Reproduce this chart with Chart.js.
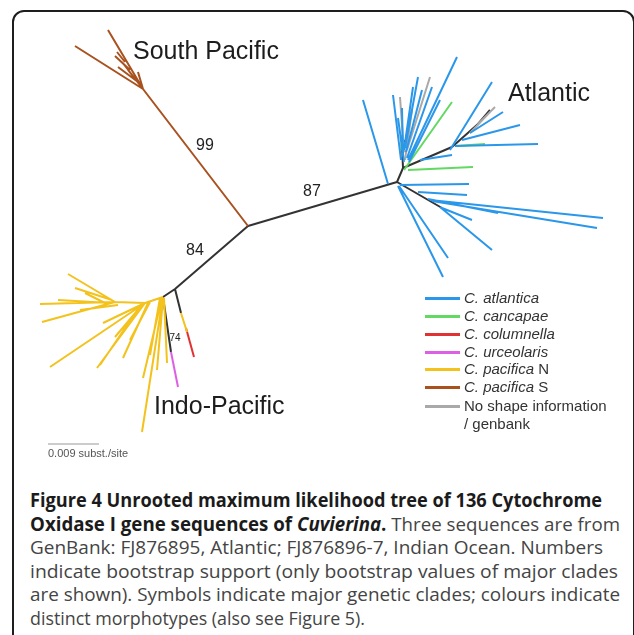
<!DOCTYPE html>
<html>
<head>
<meta charset="utf-8">
<script src="https://cdn.jsdelivr.net/npm/chart.js@4.4.1/dist/chart.umd.min.js"></script>
<style>
  html, body { margin: 0; padding: 0; background: #fff; width: 634px; height: 635px; overflow: hidden; }
  #frame { position: absolute; left: 12px; top: 10px; width: 623px; height: 660px; border: 2px solid #1e1e1e; border-radius: 12px; box-sizing: border-box; }
  #plot { position: absolute; left: 0; top: 0; width: 634px; height: 470px; }
  #legend { position: absolute; left: 0; top: 0; font-family: "Liberation Sans", Arial, sans-serif; font-size: 15px; color: #333; }
  .lg-row { position: absolute; left: 425px; height: 18px; white-space: nowrap; }
  .lg-swatch { position: absolute; left: 0; top: 8px; width: 35px; height: 3px; }
  .lg-text { position: absolute; left: 39px; top: 0; line-height: 18px; }
  #caption { position: absolute; left: 30px; top: 0; font-family: "Open Sans", "Noto Sans", sans-serif; font-size: 19px; color: #444; font-weight: 400; }
  .cap-line { position: absolute; left: 0; white-space: nowrap; transform-origin: 0 0; line-height: 24px; }
  .cap-line b { font-weight: 700; color: #1b1b1b; }
</style>
</head>
<body>
<div id="frame"></div>
<div id="plot"><canvas id="tree"></canvas></div>
<div id="legend"></div>
<div id="caption"></div>
<script>
// ---- tree data: branches as [x1, y1, x2, y2] in tree-layout units ----
const cladeNames = ['South Pacific', 'Atlantic', 'Indo-Pacific'];
const bootstrapValues = [99, 87, 84, 74];
const morphotypes = ['C. atlantica', 'C. cancapae', 'C. columnella', 'C. urceolaris', 'C. pacifica N', 'C. pacifica S', 'No shape information / genbank'];

const internalBranches = [
  [248, 226, 397, 182], [248, 226, 175, 289], [175, 289, 163, 297], [175, 289, 181, 313],
  [163, 297, 171, 352], [397, 182, 403, 168], [403, 168, 402, 145], [403, 168, 452, 147],
  [452, 147, 478, 124], [478, 124, 490, 110], [397, 182, 442, 208], [402, 160, 405, 140]
];
const atlanticaBranches = [
  [388, 184, 363, 100], [401, 160, 393, 95], [403, 155, 402, 108], [404, 150, 413, 87],
  [405, 148, 418, 77], [406, 152, 422, 90], [408, 160, 457, 57], [407, 158, 432, 87],
  [409, 162, 440, 100], [404, 162, 398, 118], [450, 150, 492, 82], [462, 140, 520, 125],
  [455, 146, 538, 144], [420, 160, 452, 155], [470, 133, 503, 112], [400, 185, 469, 184],
  [418, 192, 467, 195], [430, 200, 603, 218], [432, 201, 597, 228], [428, 199, 498, 213],
  [442, 208, 472, 220], [440, 207, 492, 250], [399, 186, 448, 258], [398, 186, 443, 277]
];
const cancapaeBranches = [
  [404, 170, 452, 102], [408, 170, 473, 167], [455, 146, 485, 144], [401, 150, 402, 135]
];
const columnellaBranches = [[186, 328, 194, 357]];
const urceolarisBranches = [[171, 352, 178, 387]];
const pacificaNBranches = [
  [163, 297, 145, 303], [145, 303, 115, 302], [115, 302, 40, 304], [115, 302, 68, 274],
  [115, 302, 42, 322], [112, 300, 75, 288], [110, 303, 58, 300], [118, 305, 80, 310],
  [105, 303, 85, 293], [145, 303, 50, 367], [145, 303, 97, 368], [140, 306, 100, 365],
  [145, 303, 103, 323], [142, 305, 115, 337], [148, 303, 123, 358], [150, 302, 130, 340],
  [163, 297, 142, 432], [162, 298, 143, 378], [163, 298, 157, 370], [164, 298, 167, 363],
  [160, 298, 150, 355], [181, 313, 187, 332]
];
const pacificaSBranches = [
  [248, 226, 143, 89], [143, 89, 75, 46], [143, 89, 108, 30], [143, 89, 128, 70],
  [138, 82, 118, 67], [130, 70, 115, 56], [125, 62, 117, 52], [143, 89, 138, 72],
  [140, 85, 122, 62]
];
const genbankBranches = [
  [404, 152, 400, 97], [407, 150, 430, 77], [478, 124, 495, 107], [470, 133, 490, 112],
  [405, 160, 412, 110]
];
const scaleBarSubst = 0.009;

// ---- styling ----
const colours = {
  atlantica: '#2a97ea', cancapae: '#62d962', columnella: '#e03232', urceolaris: '#dd5fe3',
  pacificaN: '#f3c21c', pacificaS: '#a8521f', genbank: '#a9a9a9', internal: '#333333'
};
const unitsPerSubst = 51 / 0.009;          // layout units per substitution/site
const scaleBarOrigin = [48, 444];
const cladeLabelAnchors = [[133, 59], [508, 101], [154, 414]];
const bootstrapAnchors = [[205, 146], [312, 192], [195, 251], [175, 338]];

function segments(list) {
  const out = [];
  list.forEach(b => { out.push({ x: b[0], y: b[1] }, { x: b[2], y: b[3] }, { x: null, y: null }); });
  return out;
}
function branchSet(list, colour, width) {
  return { data: segments(list), showLine: true, borderColor: colour, borderWidth: width,
           pointRadius: 0, pointHoverRadius: 0, spanGaps: false, clip: false };
}

const scaleBar = [[scaleBarOrigin[0], scaleBarOrigin[1], scaleBarOrigin[0] + scaleBarSubst * unitsPerSubst, scaleBarOrigin[1]]];

const textPlugin = {
  id: 'treeText',
  afterDatasetsDraw(chart) {
    const { ctx, scales: { x, y } } = chart;
    ctx.save();
    ctx.fillStyle = '#1d1d1d';
    ctx.textBaseline = 'alphabetic';
    ctx.textAlign = 'left';
    ctx.font = '25px "Liberation Sans", Arial, sans-serif';
    cladeNames.forEach((name, i) => {
      const p = cladeLabelAnchors[i];
      ctx.fillText(name, x.getPixelForValue(p[0]), y.getPixelForValue(p[1]));
    });
    ctx.textAlign = 'center';
    ctx.textBaseline = 'middle';
    bootstrapValues.forEach((v, i) => {
      const p = bootstrapAnchors[i];
      ctx.font = (i === 3 ? '10px' : '16px') + ' "Liberation Sans", Arial, sans-serif';
      ctx.fillStyle = '#222';
      ctx.fillText(String(v), x.getPixelForValue(p[0]), y.getPixelForValue(p[1]));
    });
    ctx.textAlign = 'left';
    ctx.textBaseline = 'middle';
    ctx.fillStyle = '#555';
    ctx.font = '11px "Liberation Sans", Arial, sans-serif';
    ctx.fillText(scaleBarSubst + ' subst./site', x.getPixelForValue(scaleBarOrigin[0]), y.getPixelForValue(scaleBarOrigin[1] + 10));
    ctx.restore();
  }
};

new Chart(document.getElementById('tree'), {
  type: 'scatter',
  data: {
    datasets: [
      branchSet(pacificaSBranches, colours.pacificaS, 2),
      branchSet(pacificaNBranches, colours.pacificaN, 2),
      branchSet(atlanticaBranches, colours.atlantica, 2),
      branchSet(cancapaeBranches, colours.cancapae, 2),
      branchSet(genbankBranches, colours.genbank, 2),
      branchSet(columnellaBranches, colours.columnella, 2),
      branchSet(urceolarisBranches, colours.urceolaris, 2),
      branchSet(internalBranches, colours.internal, 2),
      branchSet(scaleBar, '#999', 1)
    ]
  },
  options: {
    responsive: true, maintainAspectRatio: false, animation: false,
    layout: { padding: 0 },
    scales: {
      x: { type: 'linear', min: 0, max: 634, display: false },
      y: { type: 'linear', min: 0, max: 470, reverse: true, display: false }
    },
    plugins: { legend: { display: false }, tooltip: { enabled: false } },
    events: []
  },
  plugins: [textPlugin]
});

// ---- legend ----
const legendColours = [colours.atlantica, colours.cancapae, colours.columnella, colours.urceolaris, colours.pacificaN, colours.pacificaS, colours.genbank];
const legendRowTops = [289, 307, 325, 343, 360, 378, 397];
const legendEl = document.getElementById('legend');
morphotypes.forEach((name, i) => {
  const row = document.createElement('div');
  row.className = 'lg-row';
  row.style.top = legendRowTops[i] + 'px';
  const sw = document.createElement('div');
  sw.className = 'lg-swatch';
  sw.style.background = legendColours[i];
  row.appendChild(sw);
  const tx = document.createElement('div');
  tx.className = 'lg-text';
  if (name.startsWith('C. ')) {
    const parts = name.split(' ');
    const italic = parts.slice(0, 2).join(' ');
    const rest = parts.slice(2).join(' ');
    tx.innerHTML = '<i>' + italic + '</i>' + (rest ? ' ' + rest : '');
  } else {
    const idx = name.indexOf(' / ');
    tx.innerHTML = name.slice(0, idx) + '<br>' + name.slice(idx + 1);
  }
  row.appendChild(tx);
  legendEl.appendChild(row);
});

// ---- caption ----
const captionLines = [
  '<b>Figure 4 Unrooted maximum likelihood tree of 136 Cytochrome</b>',
  '<b>Oxidase I gene sequences of <i>Cuvierina</i>.</b> Three sequences are from',
  'GenBank: FJ876895, Atlantic; FJ876896-7, Indian Ocean. Numbers',
  'indicate bootstrap support (only bootstrap values of major clades',
  'are shown). Symbols indicate major genetic clades; colours indicate',
  'distinct morphotypes (also see Figure 5).'
];
const captionTops = [488, 511.5, 535, 558.5, 582, 605.5];
const captionWidths = [572, 590, 573, 588, 590, 335];
const capEl = document.getElementById('caption');
const lineEls = captionLines.map((html, i) => {
  const d = document.createElement('div');
  d.className = 'cap-line';
  d.style.top = captionTops[i] + 'px';
  d.innerHTML = html;
  capEl.appendChild(d);
  return d;
});
function fitCaption() {
  lineEls.forEach((d, i) => {
    d.style.transform = 'none';
    const w = d.getBoundingClientRect().width;
    if (w > 0) d.style.transform = 'scaleX(' + (captionWidths[i] / w) + ')';
  });
}
fitCaption();
if (document.fonts && document.fonts.ready) document.fonts.ready.then(fitCaption);
</script>
</body>
</html>
